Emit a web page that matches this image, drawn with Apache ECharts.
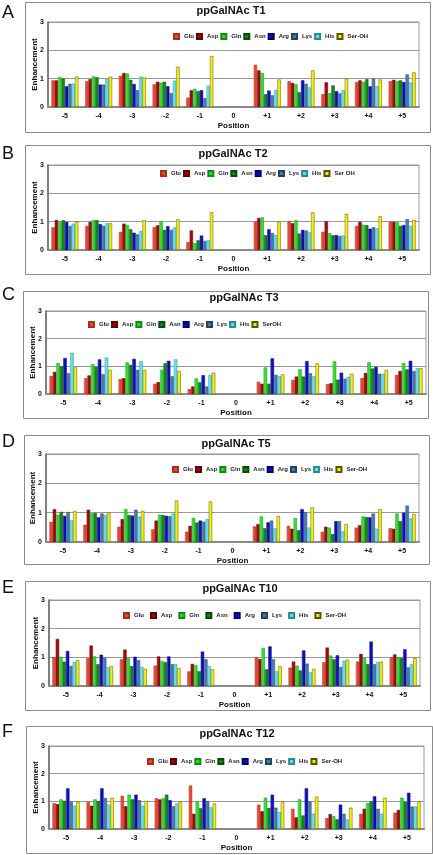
<!DOCTYPE html>
<html>
<head>
<meta charset="utf-8">
<script src="https://cdn.jsdelivr.net/npm/echarts@6/dist/echarts.min.js"></script>
<style>
html,body{margin:0;padding:0;background:#fff;}
#chart{width:433px;height:855px;}
</style>
</head>
<body>
<div id="chart"></div>
<script>
// ---------- DATA ----------
const categories = ['-5','-4','-3','-2','-1','0','+1','+2','+3','+4','+5'];
const residues = ['Glu','Asp','Gln','Asn','Arg','Lys','His'];
const serLabels = ['Ser-OH','Ser OH','SerOH','Ser-OH','Ser-OH','Ser-OH'];
const panelTitles = ['ppGalNAc T1','ppGalNAc T2','ppGalNAc T3','ppGalNAc T5','ppGalNAc T10','ppGalNAc T12'];
const panelLetters = ['A','B','C','D','E','F'];
const yTicks = [0,1,2,3];

// ppGalNAc T1
const T1_Glu = [0.94,0.91,1.10,0.80,0.33,null,1.49,0.91,0.45,0.88,0.91];
const T1_Asp = [0.94,0.98,1.20,0.89,0.59,null,1.29,0.85,0.87,0.94,0.96];
const T1_Gln = [1.06,1.08,1.18,0.86,0.64,null,1.20,0.80,0.49,0.89,0.91];
const T1_Asn = [1.00,1.05,0.96,0.89,0.56,null,0.45,0.52,0.76,0.98,0.94];
const T1_Arg = [0.73,0.79,0.81,0.73,0.59,null,0.58,0.94,0.56,0.73,0.88];
const T1_Lys = [0.82,0.79,0.59,0.49,0.31,null,0.41,0.82,0.48,1.00,1.15];
const T1_His = [0.82,0.98,1.07,0.93,0.75,null,0.60,0.69,0.59,0.73,0.86];
const T1_Ser = [1.07,1.07,1.04,1.42,1.80,null,0.97,1.29,1.00,0.97,1.22];
// ppGalNAc T2
const T2_Glu = [0.80,0.85,0.64,0.81,0.28,null,1.00,1.02,0.64,0.85,1.00];
const T2_Asp = [1.06,0.99,0.93,0.87,0.69,null,1.13,0.94,1.01,0.99,0.99];
const T2_Gln = [0.98,1.06,0.88,1.01,0.24,null,1.15,1.05,0.59,0.89,0.98];
const T2_Asn = [1.05,1.05,0.73,0.71,0.34,null,0.52,0.58,0.52,0.88,0.85];
const T2_Arg = [0.99,0.91,0.61,0.84,0.51,null,0.73,0.71,0.52,0.75,0.88];
const T2_Lys = [0.85,0.85,0.55,0.71,0.32,null,0.60,0.69,0.49,0.80,1.09];
const T2_His = [0.93,0.94,0.67,0.79,0.35,null,0.52,0.62,0.51,0.76,0.85];
const T2_Ser = [1.00,0.94,1.05,1.08,1.33,null,1.00,1.33,1.27,1.19,1.06];
// ppGalNAc T3
const T3_Glu = [0.65,0.57,0.54,0.37,0.18,null,0.44,0.51,0.36,0.58,0.69];
const T3_Asp = [0.80,0.67,0.57,0.43,0.27,null,0.37,0.63,0.39,0.76,0.83];
const T3_Gln = [1.11,1.08,1.14,0.87,0.56,null,0.96,0.89,1.18,1.14,1.12];
const T3_Asn = [1.00,0.98,1.05,1.11,0.42,null,0.37,0.63,0.52,0.92,0.89];
const T3_Arg = [1.30,1.25,1.27,1.20,0.68,null,1.29,1.19,0.77,0.98,1.20];
const T3_Lys = [0.75,0.71,0.87,0.64,0.27,null,0.69,0.75,0.55,0.73,0.83];
const T3_His = [1.49,1.32,1.18,1.25,0.69,null,0.64,0.64,0.62,0.73,0.93];
const T3_Ser = [0.96,0.87,0.87,0.83,0.77,null,0.71,1.11,0.73,0.87,0.93];
// ppGalNAc T5
const T5_Glu = [0.69,0.59,0.52,0.43,0.35,null,0.53,0.55,0.35,0.49,0.47];
const T5_Asp = [1.12,1.10,0.78,0.73,0.55,null,0.61,0.45,0.52,0.57,0.45];
const T5_Gln = [0.93,0.97,1.12,0.93,0.82,null,0.87,0.81,0.49,0.87,0.97];
const T5_Asn = [1.03,0.99,0.92,0.92,0.66,null,0.47,0.40,0.27,0.85,0.71];
const T5_Arg = [0.89,0.84,0.90,0.89,0.73,null,0.67,1.12,0.71,0.84,1.00];
const T5_Lys = [1.02,0.97,1.10,0.88,0.69,null,0.73,1.02,0.71,0.97,1.24];
const T5_His = [0.73,0.92,0.86,0.97,0.78,null,0.47,0.49,0.36,0.45,0.80];
const T5_Ser = [1.06,1.01,1.06,1.41,1.38,null,0.89,1.18,0.61,1.12,0.95];
// ppGalNAc T10
const T10_Glu = [1.00,0.97,0.93,0.71,0.51,null,1.00,0.64,0.83,0.85,1.00];
const T10_Asp = [1.64,1.41,1.27,1.03,0.77,null,0.94,0.85,1.34,1.12,1.10];
const T10_Gln = [1.02,1.03,0.98,0.87,0.72,null,1.33,0.71,1.06,0.98,1.00];
const T10_Asn = [0.85,0.76,0.69,0.83,0.51,null,0.58,0.54,0.93,0.76,0.97];
const T10_Arg = [1.22,1.09,1.02,1.03,1.20,null,1.38,1.24,1.07,1.55,1.28];
const T10_Lys = [0.70,0.98,0.90,0.76,0.93,null,0.93,0.78,0.66,0.76,0.65];
const T10_His = [0.83,0.65,0.67,0.76,0.69,null,0.51,0.47,0.88,0.83,0.76];
const T10_Ser = [0.90,0.69,0.60,0.62,0.58,null,0.69,0.60,0.92,0.85,0.97];
// ppGalNAc T12
const T12_Glu = [0.93,0.98,1.20,1.11,1.57,null,0.88,0.73,0.39,0.55,0.59];
const T12_Asp = [0.90,0.84,0.82,1.07,0.55,null,0.64,0.42,0.54,0.73,0.69];
const T12_Gln = [1.07,1.07,1.24,1.11,0.98,null,1.13,1.07,0.46,0.93,1.13];
const T12_Asn = [1.02,1.00,1.07,1.24,0.75,null,0.76,0.49,0.35,1.00,0.98];
const T12_Arg = [1.47,1.47,1.24,1.04,1.11,null,1.24,1.47,0.88,1.18,1.31];
const T12_Lys = [0.98,1.12,1.04,0.82,1.00,null,0.77,0.99,0.55,0.73,0.81];
const T12_His = [0.84,0.88,0.84,0.92,0.78,null,0.61,0.55,0.34,0.55,0.81];
const T12_Ser = [0.99,1.13,1.02,0.99,0.92,null,0.99,1.17,0.77,1.13,0.99];

const panelData = [
  [T1_Glu,T1_Asp,T1_Gln,T1_Asn,T1_Arg,T1_Lys,T1_His,T1_Ser],
  [T2_Glu,T2_Asp,T2_Gln,T2_Asn,T2_Arg,T2_Lys,T2_His,T2_Ser],
  [T3_Glu,T3_Asp,T3_Gln,T3_Asn,T3_Arg,T3_Lys,T3_His,T3_Ser],
  [T5_Glu,T5_Asp,T5_Gln,T5_Asn,T5_Arg,T5_Lys,T5_His,T5_Ser],
  [T10_Glu,T10_Asp,T10_Gln,T10_Asn,T10_Arg,T10_Lys,T10_His,T10_Ser],
  [T12_Glu,T12_Asp,T12_Gln,T12_Asn,T12_Arg,T12_Lys,T12_His,T12_Ser]
];

// ---------- STYLE / LAYOUT ----------
const FONT = '"Liberation Sans", Arial, sans-serif';
const colors = [
  ['#ff8a70','#e8472e','#a83020'],  // Glu
  ['#c83030','#9c0c0c','#600000'],  // Asp
  ['#90ff90','#2ee02e','#128a12'],  // Gln
  ['#50b050','#14861a','#0a4a0a'],  // Asn
  ['#4a5af0','#0a10c0','#000070'],  // Arg
  ['#8ab0d8','#4a78b0','#244466'],  // Lys
  ['#c0ffff','#5ee2ec','#2a8a90'],  // His
  ['#ffffa0','#f4f000','#555500']   // Ser
];
const layout = [
  {grid:{left:48,right:14,top:22,height:85},  box:[25,2,430,132],   title:[231,11],  letterY:13,  legend:[173,36,2]},
  {grid:{left:48,right:14,top:165,height:85}, box:[25,145,430,274], title:[233,154], letterY:154, legend:[160,173,2]},
  {grid:{left:46,right:7,top:311,height:83},  box:[23,291,428,418], title:[244,298], letterY:295, legend:[88,324,2]},
  {grid:{left:46,right:14,top:454,height:88}, box:[24,435,429,564], title:[236,444], letterY:442, legend:[172,469,2]},
  {grid:{left:49,right:13,top:600,height:86}, box:[25,581,430,710], title:[240,589], letterY:588, legend:[123,615,6]},
  {grid:{left:49,right:9,top:746,height:83},  box:[26,726,432,853], title:[237,734], letterY:732, legend:[147,761,2]}
];

const grids=[], xAxes=[], yAxes=[], series=[], titles=[], legends=[], graphics=[];

layout.forEach((L,p)=>{
  const names = residues.concat([serLabels[p]]);
  graphics.push({type:'rect', z:-1, shape:{x:L.box[0]+0.5,y:L.box[1]+0.5,width:L.box[2]-L.box[0],height:L.box[3]-L.box[1]},
    style:{fill:'#fff',stroke:'#8a8a8a',lineWidth:1}});
  graphics.push({type:'text', x:2, y:L.letterY, style:{text:panelLetters[p],font:'18px '+FONT,fill:'#111',verticalAlign:'middle'}});

  grids.push(Object.assign({show:true,backgroundColor:'#fff',borderColor:'#9a9a9a',borderWidth:1,containLabel:false}, L.grid));
  xAxes.push({type:'category', gridIndex:p, data:categories,
    name:'Position', nameLocation:'middle', nameGap:15, nameMoveOverlap:false,
    nameTextStyle:{fontFamily:FONT,fontSize:8,fontWeight:'bold',color:'#111'},
    axisTick:{show:false},
    axisLine:{show:true,lineStyle:{color:'#8a8a8a',width:2}},
    axisLabel:{fontFamily:FONT,fontSize:7,fontWeight:'bold',color:'#111',margin:6,interval:0}});
  yAxes.push({type:'value', gridIndex:p, min:yTicks[0], max:yTicks[yTicks.length-1], interval:1,
    name:'Enhancement', nameLocation:'middle', nameGap:9, nameRotate:90, nameMoveOverlap:false,
    nameTextStyle:{fontFamily:FONT,fontSize:8,fontWeight:'bold',color:'#111'},
    axisTick:{show:false},
    axisLine:{show:true,lineStyle:{color:'#666',width:1.5}},
    splitLine:{show:true,lineStyle:{color:'#999',width:1}},
    axisLabel:{fontFamily:FONT,fontSize:7,fontWeight:'bold',color:'#111',margin:4}});
  titles.push({text:panelTitles[p], left:L.title[0], top:L.title[1]-6, textAlign:'center', padding:0,
    textStyle:{fontFamily:FONT,fontSize:11,fontWeight:'bold',color:'#111'}});
  legends.push({data:names, left:L.legend[0], top:L.legend[1]-3, orient:'horizontal', padding:0,
    itemWidth:5,itemHeight:5,itemGap:L.legend[2], icon:'rect', selectedMode:false,
    textStyle:{fontFamily:FONT,fontSize:6,fontWeight:'bold',color:'#222'}});

  panelData[p].forEach((vals,j)=>{
    const c = colors[j];
    series.push({type:'bar', name:names[j], xAxisIndex:p, yAxisIndex:p, data:vals,
      barGap:'0%', barCategoryGap:'20%',
      itemStyle:{
        color:new echarts.graphic.LinearGradient(0,0,1,0,[
          {offset:0,color:c[0]},{offset:0.35,color:c[1]},{offset:1,color:c[1]}]),
        borderColor:c[2], borderWidth:0.5},
      emphasis:{disabled:true}
    });
  });
});

const chart = echarts.init(document.getElementById('chart'), null, {renderer:'canvas'});
chart.setOption({
  animation:false,
  backgroundColor:'#fff',
  title:titles,
  legend:legends,
  grid:grids,
  xAxis:xAxes,
  yAxis:yAxes,
  series:series,
  graphic:graphics
});
</script>
</body>
</html>
